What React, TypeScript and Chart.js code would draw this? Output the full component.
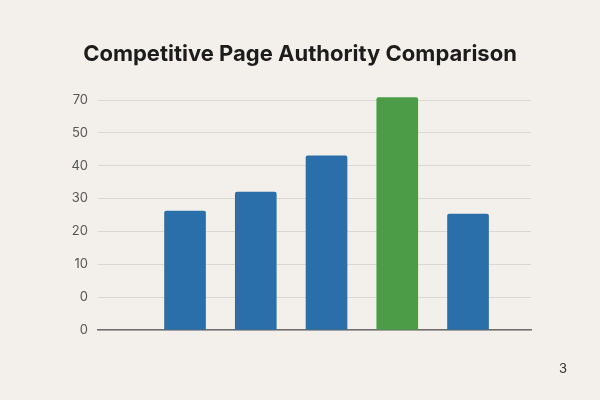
import { useEffect, useRef } from 'react';
import { Chart, registerables } from 'chart.js';

Chart.register(...registerables);

const sites = ['Site A', 'Site B', 'Site C', 'Our Site', 'Site E'];
const authority = [26.2, 32, 43, 60.7, 25.3];
const highlightIndex = 3;
const tickLabels = ['0', '0', '10', '20', '30', '40', '50', '70'];
const pageNumber = '3';

const BLUE = '#2a6fa9';
const GREEN = '#4b9b47';

const pageNumberPlugin = {
  id: 'pageNumber',
  afterDraw(chart: Chart) {
    const { ctx } = chart;
    ctx.save();
    ctx.font = '13px Inter';
    ctx.fillStyle = '#333';
    ctx.textAlign = 'center';
    ctx.textBaseline = 'middle';
    ctx.fillText(pageNumber, chart.width - 37, chart.height - 31);
    ctx.restore();
  },
};

export default function App() {
  const canvasRef = useRef<HTMLCanvasElement | null>(null);
  const chartRef = useRef<Chart | null>(null);

  useEffect(() => {
    document.body.style.margin = '0';
    const ctx = canvasRef.current?.getContext('2d');
    if (!ctx) return;

    if (chartRef.current) chartRef.current.destroy();

    chartRef.current = new Chart(ctx, {
      type: 'bar',
      data: {
        datasets: [
          {
            label: 'Page Authority',
            data: authority.map((v, i) => ({ x: i + 1, y: v })),
            backgroundColor: sites.map((_, i) => (i === highlightIndex ? GREEN : BLUE)),
            base: -10,
            barThickness: 41,
            borderRadius: 2,
            borderSkipped: 'bottom',
            clip: false,
          },
        ],
      },
      options: {
        responsive: false,
        animation: false,
        layout: { padding: { left: 0, right: 0, top: 0, bottom: 70 } },
        plugins: {
          legend: { display: false },
          tooltip: { enabled: false },
          title: {
            display: true,
            text: 'Competitive Page Authority Comparison',
            color: '#1c1c1c',
            font: { family: 'Inter', size: 22, weight: 'bold' },
            padding: { top: 41, bottom: 32.6 },
          },
        },
        scales: {
          x: {
            type: 'linear',
            offset: false,
            min: -0.23,
            max: 5.89,
            afterFit: (scale) => {
              scale.height = 0;
            },
            ticks: { display: false },
            grid: { display: false, drawTicks: false },
            border: { display: true, color: '#6e6e6e', width: 1.5 },
          },
          y: {
            min: -10,
            max: 60,
            afterFit: (scale) => {
              scale.width = 98;
            },
            ticks: {
              stepSize: 10,
              padding: 10,
              color: '#555',
              font: { family: 'Inter', size: 13 },
              callback: (_v, index) => tickLabels[index],
            },
            grid: { color: '#dbd8d3', drawTicks: false, lineWidth: 1 },
            border: { display: false },
          },
          yRight: {
            position: 'right',
            min: -10,
            max: 60,
            afterFit: (scale) => {
              scale.width = 69;
            },
            ticks: { display: false },
            grid: { display: false, drawTicks: false },
            border: { display: false },
          },
        },
      },
      plugins: [pageNumberPlugin],
    });

    return () => {
      if (chartRef.current) chartRef.current.destroy();
      chartRef.current = null;
    };
  }, []);

  return (
    <div style={{ width: 600, height: 400, background: '#f3f0eb' }}>
      <canvas ref={canvasRef} width={600} height={400} />
    </div>
  );
}
